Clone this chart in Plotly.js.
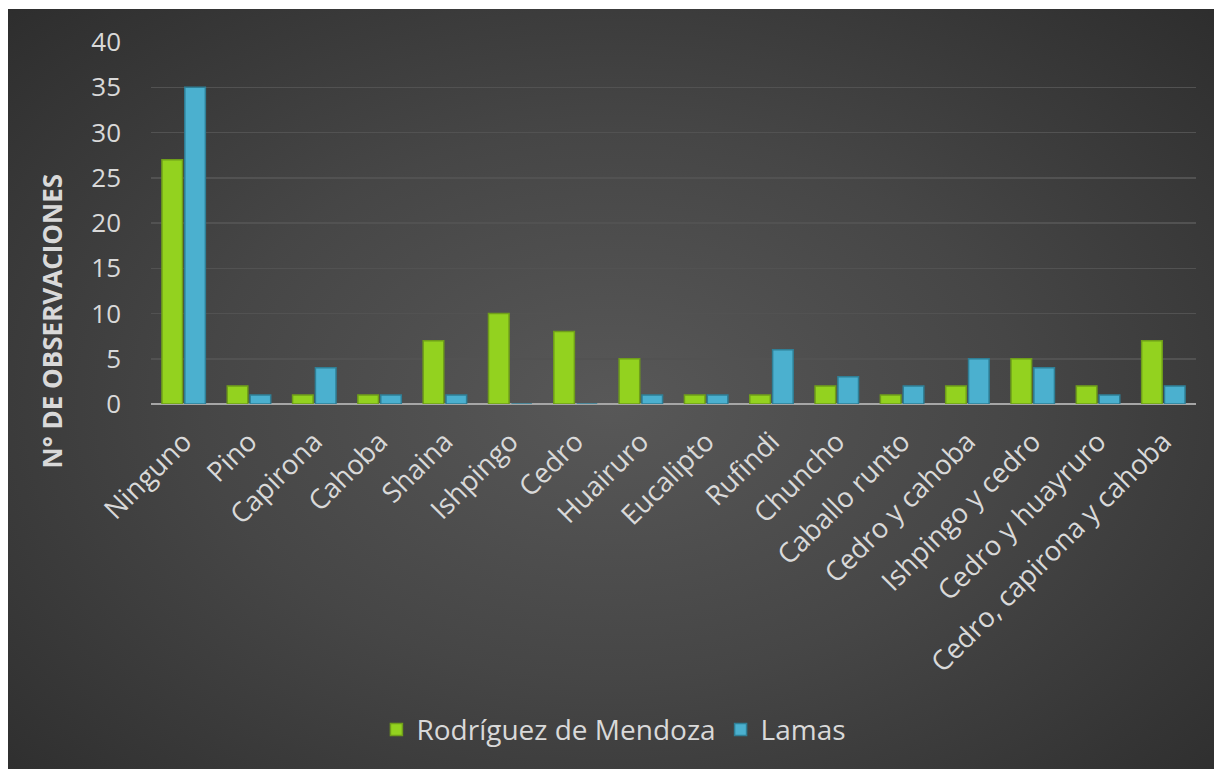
<!DOCTYPE html>
<html>
<head>
<meta charset="utf-8">
<script src="https://cdn.plot.ly/plotly-3.0.1.min.js"></script>
<style>
  html, body { margin: 0; padding: 0; background: #ffffff; width: 1214px; height: 769px; overflow: hidden; }
  #bg { position: absolute; left: 8px; top: 9px; width: 1206px; height: 760px;
        background: radial-gradient(ellipse 75% 80% at 50% 52%, #585858 0%, #464646 45%, #2a2a2a 100%); }
  #chart { position: absolute; left: 0; top: 0; width: 1206px; height: 760px; }
</style>
</head>
<body>
<div id="bg"><div id="chart"></div></div>
<script>
const categories = ["Ninguno", "Pino", "Capirona", "Cahoba", "Shaina", "Ishpingo", "Cedro", "Huairuro",
  "Eucalipto", "Rufindi", "Chuncho", "Caballo runto", "Cedro y cahoba", "Ishpingo y cedro",
  "Cedro y huayruro", "Cedro, capirona y cahoba"];
const rodriguezMendoza = [27, 2, 1, 1, 7, 10, 8, 5, 1, 1, 2, 1, 2, 5, 2, 7];
const lamas = [35, 1, 4, 1, 1, 0, 0, 1, 1, 6, 3, 2, 5, 4, 1, 2];
const seriesNames = ["Rodríguez de Mendoza", "Lamas"];
const yTicks = [0, 5, 10, 15, 20, 25, 30, 35, 40];
const yTitle = 'N° DE OBSERVACIONES';

const fontFam = '"Open Sans", "Noto Sans", sans-serif';
const txt = '#d9d9d9';

const traces = [
  { type: 'bar', name: seriesNames[0], x: categories, y: rodriguezMendoza,
    marker: { color: '#93d21f', line: { color: '#6f9e1a', width: 1.5 } } },
  { type: 'bar', name: seriesNames[1], x: categories, y: lamas,
    marker: { color: '#4bb0cf', line: { color: '#2f7f96', width: 1.5 } } }
];

const layout = {
  width: 1206, height: 760,
  paper_bgcolor: 'rgba(0,0,0,0)', plot_bgcolor: 'rgba(0,0,0,0)',
  margin: { l: 143, r: 18, t: 33, b: 365 },
  barmode: 'group', bargap: 0.3, bargroupgap: 0.1,
  font: { family: fontFam, color: txt },
  showlegend: true,
  legend: { orientation: 'h', x: 0.443, xanchor: 'center', y: -0.9, yanchor: 'middle',
    font: { size: 28, color: txt, family: fontFam }, itemwidth: 30, traceorder: 'normal' },
  xaxis: { type: 'category', tickangle: -45, tickfont: { size: 27.5, color: txt, family: fontFam },
    ticklabelstandoff: 15,
    showgrid: false, showline: false, ticks: '', automargin: false },
  yaxis: { range: [0, 40], tickvals: yTicks, ticktext: yTicks.map(String),
    tickfont: { size: 26, color: txt, family: fontFam }, ticklabelstandoff: 29,
    showgrid: true, gridcolor: '#525252', gridwidth: 1.5,
    zeroline: true, zerolinecolor: '#a6a6a6', zerolinewidth: 2.5,
    ticks: '', ticklen: 0, automargin: false },
  annotations: [{ text: '<b>' + yTitle + '</b>', textangle: -90, xref: 'paper', yref: 'paper',
    x: -0.095, y: 0.23, xanchor: 'center', yanchor: 'middle', showarrow: false,
    font: { size: 26, color: txt, family: fontFam } }]
};

Plotly.newPlot('chart', traces, layout, { displayModeBar: false, staticPlot: true });
</script>
</body>
</html>
